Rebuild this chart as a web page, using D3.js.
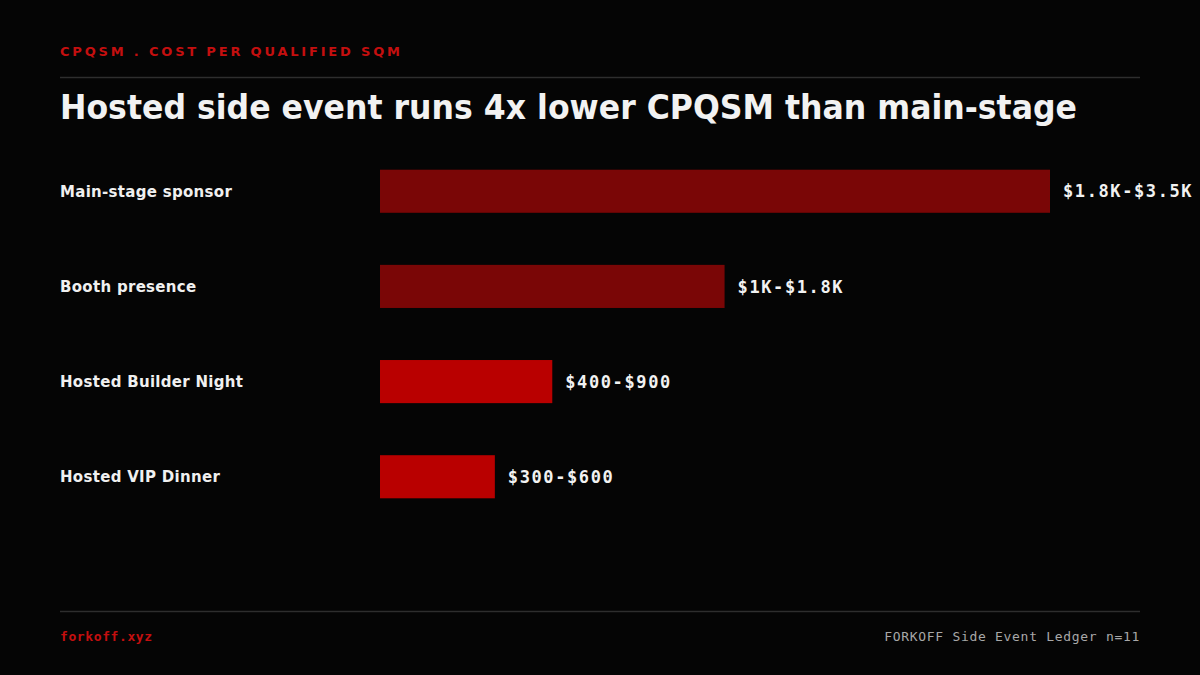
<!DOCTYPE html>
<html>
<head>
<meta charset="utf-8">
<script src="https://cdn.jsdelivr.net/npm/d3@7"></script>
<style>
  html, body { margin: 0; padding: 0; background: #050505; }
  svg { display: block; }
</style>
</head>
<body>
<svg class="chart" width="1200" height="675"></svg>
<script>
// data (USD per qualified SQM)
const categories = ['Main-stage sponsor', 'Booth presence', 'Hosted Builder Night', 'Hosted VIP Dinner'];
const lowValues = [1800, 1000, 400, 300];
const highValues = [3500, 1800, 900, 600];
const hosted = [false, false, true, true];

const width = 1200;
const height = 675;

const svg = d3.select('.chart');

svg.append('rect')
    .attr('width', width)
    .attr('height', height)
    .attr('fill', '#050505');

// header
svg.append('text')
    .attr('x', 60)
    .attr('y', 56)
    .attr('fill', '#c40f0f')
    .attr('font-family', 'DejaVu Sans')
    .attr('font-weight', 'bold')
    .attr('font-size', 13)
    .attr('textLength', 340)
    .attr('lengthAdjust', 'spacing')
    .text('CPQSM . COST PER QUALIFIED SQM');

svg.append('line')
    .attr('x1', 60).attr('x2', 1140)
    .attr('y1', 77.5).attr('y2', 77.5)
    .attr('stroke', '#2e2e2e')
    .attr('stroke-width', 1.5);

svg.append('text')
    .attr('x', 60)
    .attr('y', 119)
    .attr('fill', '#f2f2f2')
    .attr('font-family', 'DejaVu Sans')
    .attr('font-weight', 'bold')
    .attr('font-size', 33)
    .attr('textLength', 1017)
    .attr('lengthAdjust', 'spacingAndGlyphs')
    .text('Hosted side event runs 4x lower CPQSM than main-stage');

// scales
const x = d3.scaleLinear()
    .domain([0, 3500])
    .range([380, 1050]);

const y = d3.scaleBand()
    .domain(categories)
    .range([144, 524])
    .paddingInner(0.547)
    .paddingOuter(0.27);

const fmt = v => v >= 1000 ? '$' + d3.format('~')(v / 1000) + 'K' : '$' + v;

const rows = categories.map((c, i) => ({
    name: c, low: lowValues[i], high: highValues[i], hosted: hosted[i]
}));

// category labels
svg.append('g')
    .selectAll('text')
    .data(rows)
    .enter().append('text')
    .attr('x', 60)
    .attr('y', d => y(d.name) + y.bandwidth() / 2)
    .attr('dy', '0.36em')
    .attr('fill', '#f0f0f0')
    .attr('font-family', 'DejaVu Sans')
    .attr('font-weight', 'bold')
    .attr('font-size', 15)
    .attr('letter-spacing', 0.3)
    .text(d => d.name);

// bars
svg.append('g')
    .selectAll('rect')
    .data(rows)
    .enter().append('rect')
    .attr('x', x(0))
    .attr('y', d => y(d.name))
    .attr('width', d => x(d.high) - x(0))
    .attr('height', y.bandwidth())
    .attr('fill', d => d.hosted ? '#b90000' : '#7a0606');

// value labels
svg.append('g')
    .selectAll('text')
    .data(rows)
    .enter().append('text')
    .attr('x', d => x(d.high) + 13)
    .attr('y', d => y(d.name) + y.bandwidth() / 2)
    .attr('dy', '0.36em')
    .attr('fill', '#f2f2f2')
    .attr('font-family', 'DejaVu Sans Mono')
    .attr('font-weight', 'bold')
    .attr('font-size', 17)
    .attr('letter-spacing', 1.6)
    .text(d => fmt(d.low) + '-' + fmt(d.high));

// footer
svg.append('line')
    .attr('x1', 60).attr('x2', 1140)
    .attr('y1', 611.5).attr('y2', 611.5)
    .attr('stroke', '#2e2e2e')
    .attr('stroke-width', 1.5);

svg.append('text')
    .attr('x', 60)
    .attr('y', 641)
    .attr('fill', '#c40f0f')
    .attr('font-family', 'DejaVu Sans Mono')
    .attr('font-weight', 'bold')
    .attr('font-size', 13)
    .attr('letter-spacing', 0.6)
    .text('forkoff.xyz');

svg.append('text')
    .attr('x', 1140)
    .attr('y', 641)
    .attr('text-anchor', 'end')
    .attr('fill', '#a8a8a8')
    .attr('font-family', 'DejaVu Sans Mono')
    .attr('font-size', 13)
    .attr('letter-spacing', 0.7)
    .text('FORKOFF Side Event Ledger n=11');
</script>
</body>
</html>
